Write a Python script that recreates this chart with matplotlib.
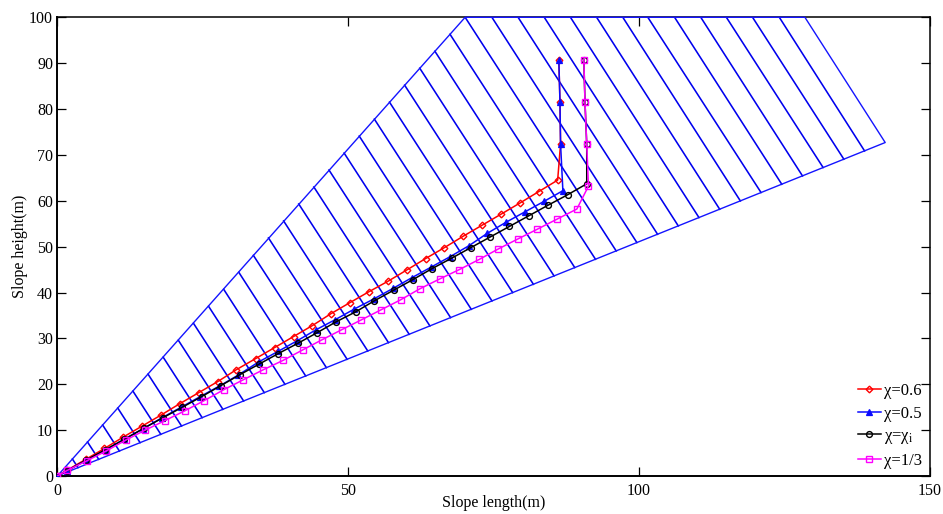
import matplotlib
matplotlib.use('Agg')
import matplotlib.pyplot as plt

############################### Data
# slope outline
outline_x = [0, 70.1, 128.5, 142.3, 0]
outline_y = [0, 100, 100, 72.7, 0]

# slices : upper end on the slope / top, lower end on the slip line
upper_x = [2.6, 5.2, 7.8, 10.4, 13.0, 15.6, 18.2, 20.8, 23.4, 26.0,
           28.6, 31.2, 33.7, 36.3, 38.9, 41.5, 44.1, 46.7, 49.3, 51.9,
           54.5, 57.1, 59.7, 62.3, 64.9, 67.5, 70.1, 74.7, 79.2, 83.7,
           88.2, 92.7, 97.2, 101.5, 106.1, 110.6, 115.0, 119.5, 124.1]
upper_y = [3.7, 7.4, 11.1, 14.8, 18.5, 22.2, 25.9, 29.6, 33.3, 37.0,
           40.7, 44.4, 48.1, 51.9, 55.6, 59.3, 63.0, 66.7, 70.4, 74.1,
           77.8, 81.5, 85.2, 88.9, 92.6, 96.3, 100, 100, 100, 100,
           100, 100, 100, 100, 100, 100, 100, 100, 100]
lower_x = [3.56, 7.12, 10.67, 14.23, 17.79, 21.35, 24.9, 28.46, 32.02, 35.58,
           39.13, 42.69, 46.25, 49.81, 53.36, 56.92, 60.48, 64.04, 67.6, 71.15,
           74.71, 78.27, 81.83, 85.38, 88.94, 92.5, 96.06, 99.62, 103.17, 106.73,
           110.29, 113.85, 117.4, 120.96, 124.52, 128.08, 131.63, 135.19, 138.75]
lower_y = [1.82, 3.64, 5.45, 7.27, 9.09, 10.91, 12.72, 14.54, 16.36, 18.18,
           19.99, 21.81, 23.63, 25.45, 27.26, 29.08, 30.9, 32.72, 34.53, 36.35,
           38.17, 39.99, 41.8, 43.62, 45.44, 47.26, 49.07, 50.89, 52.71, 54.53,
           56.34, 58.16, 59.98, 61.8, 63.61, 65.43, 67.25, 69.07, 70.88]

# curves
red_x = [0, 1.6, 4.85, 8.1, 11.35, 14.6, 17.85, 21.1, 24.35, 27.6, 30.8, 34.1, 37.35, 40.6,
         43.85, 47.05, 50.3, 53.6, 56.9, 60.05, 63.3, 66.55, 69.8, 73.05, 76.3, 79.5, 82.75, 86.0,
         86.5, 86.4, 86.2]
red_y = [0, 1.2, 3.6, 6.0, 8.5, 10.9, 13.3, 15.8, 18.2, 20.6, 23.2, 25.6, 28.0, 30.4,
         32.8, 35.4, 37.8, 40.2, 42.5, 44.9, 47.4, 49.8, 52.3, 54.7, 57.1, 59.5, 62.0, 64.5,
         72.4, 81.5, 90.8]
blue_x = [0, 1.6, 4.9, 8.2, 11.45, 14.75, 18.0, 21.3, 24.55, 27.85, 31.1, 34.65, 38.0, 41.25,
          44.5, 47.8, 51.05, 54.4, 57.7, 60.9, 64.2, 67.5, 70.75, 73.9, 77.1, 80.4, 83.7, 86.9,
          86.5, 86.4, 86.2]
blue_y = [0, 1.1, 3.4, 5.6, 8.0, 10.3, 12.7, 15.0, 17.3, 19.6, 22.0, 24.9, 27.2, 29.5,
          31.9, 34.1, 36.4, 38.6, 40.9, 43.2, 45.5, 47.8, 50.2, 52.9, 55.3, 57.6, 59.9, 62.2,
          72.4, 81.5, 90.8]
black_x = [0, 1.6, 4.9, 8.2, 11.55, 14.85, 18.15, 21.5, 24.8, 28.1, 31.4, 34.7, 38.0, 41.3,
           44.6, 47.9, 51.3, 54.5, 57.8, 61.1, 64.4, 67.8, 71.1, 74.4, 77.7, 81.0, 84.3, 87.7, 91.0,
           91.0, 90.7, 90.5]
black_y = [0, 1.1, 3.4, 5.7, 8.0, 10.4, 12.7, 15.0, 17.3, 19.7, 22.1, 24.4, 26.7, 28.9,
           31.2, 33.6, 35.8, 38.2, 40.5, 42.8, 45.2, 47.5, 49.8, 52.1, 54.4, 56.7, 59.0, 61.3, 63.7,
           72.3, 81.5, 90.8]
pink_x = [0, 1.7, 5.05, 8.4, 11.8, 15.1, 18.45, 21.9, 25.2, 28.6, 32.0, 35.3, 38.8, 42.2,
          45.5, 48.9, 52.2, 55.6, 59.0, 62.3, 65.8, 69.1, 72.5, 75.8, 79.2, 82.5, 85.9, 89.3, 91.3,
          91.0, 90.7, 90.5]
pink_y = [0, 1.2, 3.3, 5.45, 7.85, 10.0, 12.05, 14.2, 16.4, 18.8, 21.0, 23.1, 25.2, 27.5,
          29.7, 31.9, 34.0, 36.2, 38.4, 40.8, 43.0, 45.0, 47.2, 49.5, 51.7, 53.8, 56.0, 58.2, 63.2,
          72.3, 81.5, 90.8]

x_ticks = [0, 50, 100, 150]
y_ticks = [0, 10, 20, 30, 40, 50, 60, 70, 80, 90, 100]

############################### Figure
plt.rcParams['font.family'] = ['Liberation Serif', 'DejaVu Sans']
plt.rcParams['mathtext.fontset'] = 'stix'
plt.rcParams['font.size'] = 11.5

fig = plt.figure(figsize=(9.43, 5.14), dpi=100)
ax = fig.add_axes([57.3 / 943, 38 / 514, 872.7 / 943, 458.7 / 514])

############################### Slope and slices
ax.plot(outline_x, outline_y, color='#1414ff', lw=1.0, clip_on=False, zorder=3)
for i in range(len(upper_x)):
    ax.plot([upper_x[i], lower_x[i]], [upper_y[i], lower_y[i]], color='#0000ee', lw=1.15, zorder=2)

############################### Curves
ax.plot(red_x, red_y, color='#ff0000', lw=1.1, marker='D', ms=3.4, mfc='none', mew=1.0,
        label='χ=0.6', zorder=4)
ax.plot(blue_x, blue_y, color='#0a0aff', lw=1.1, marker='^', ms=4.8, mfc='#0a0aff', mew=0.9,
        label='χ=0.5', zorder=5)
ax.plot(black_x, black_y, color='black', lw=1.1, marker='o', ms=4.2, mfc='none', mew=1.0,
        label=r'χ=χ$_{\mathrm{i}}$', zorder=6)
ax.plot(pink_x, pink_y, color='#ff00ff', lw=1.1, marker='s', ms=4.2, mfc='none', mew=1.0,
        label='χ=1/3', zorder=7)

############################### Axes
ax.set_xlim(0, 150)
ax.set_ylim(0, 100)
ax.set_xticks(x_ticks)
ax.set_yticks(y_ticks)
ax.tick_params(direction='in', length=6.5, width=0.9, top=True, right=True, pad=3)
ax.tick_params(axis='x', pad=5)
# ticks of the top and right sides are grey in the picture
for tick in ax.xaxis.get_major_ticks() + ax.yaxis.get_major_ticks():
    tick.tick2line.set_color('#666666')
for side in ['left', 'bottom']:
    ax.spines[side].set_linewidth(1.4)
ax.spines['top'].set_linewidth(1.1)
ax.spines['right'].set_linewidth(1.1)
ax.set_xlabel('Slope length(m)', labelpad=-3)
ax.set_ylabel('Slope height(m)', labelpad=1)

ax.legend(loc='lower right', bbox_to_anchor=(0.995, 0.008), frameon=False, fontsize=12,
          handlelength=1.4, handletextpad=0.2, labelspacing=0.4, borderpad=0.2, borderaxespad=0)

fig.savefig('out.png', dpi=100)
